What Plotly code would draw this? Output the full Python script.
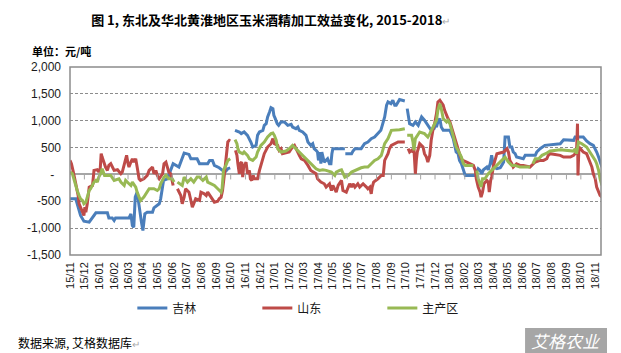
import pandas as pd
import plotly.graph_objects as go

START = pd.Timestamp("2015-11-01")
END = "2018-11-12"

# days after 2015-11-01 ; None value = gap in the series
jilin_days = [0,12,22,29,40,47,54,78,81,88,92,95,123,127,130,133,136,140,144,149,152,156,161,172,175,186,189,195,203,210,215,227,238,248,252,265,270,287,291,297,301,311,318,325,329,334,339,
              344,353,357,363,370,374,377,381,388,391,395,402,405,409,412,416,419,423,425,428,432,435,440,447,454,461,464,471,475,478,485,492,496,499,502,506,509,513,516,518,521,523,525,530,537,541,544,546,548,573,573.5,
              574,587,590,594,607,611,614,621,628,635,642,648,651,656,660,663,669,673,677,680,684,687,698,700,
              703,708,715,720,726,733,739,746,753,759,762,764,767,771,774,778,792,795,799,802,805,809,812,816,820,824,845,848,851,855,858,862,869,872,876,879,883,890,897,900,904,907,914,917,921,924,928,931,945,949,970,973,980,990,1015,1022,1029,1043,1050,1053,1070,1077,1084,1091,1095,1098,1102,1105,1109]
jilin_vals = [-454,-454,-765,-871,-889,-796,-715,-715,-809,-809,-858,-809,-809,-734,-952,-983,-423,-330,-610,-889,-1045,-734,-703,-703,-622,-547,-454,-112,-81,75,199,137,398,373,292,292,199,199,261,261,168,124,75,62,106,124,None,
              821,790,759,790,728,666,604,510,541,728,790,821,914,945,1070,1163,1244,1225,1101,1039,945,914,977,977,914,933,883,852,883,821,790,728,604,572,541,572,479,448,417,261,417,199,417,230,292,199,199,386,479,479,None,
              386,386,435,479,479,522,572,604,666,697,759,821,914,1070,1288,1350,1319,1381,1288,1288,1350,1393,1368,None,
              1225,945,914,977,914,1070,1008,914,821,852,914,883,977,1039,883,821,821,759,666,541,417,386,261,199,75,-19,-19,44,106,75,12,87,137,87,199,355,137,106,124,168,230,697,697,510,510,417,386,323,292,355,355,417,479,541,572,572,647,634,634,697,697,622,572,541,479,417,323,230,137]

shandong_days = [0,3,7,10,14,17,19,22,26,29,31,33,36,40,47,50,57,60,63,65,67,71,74,78,81,85,88,92,99,106,109,113,116,118,121,123,127,130,133,137,140,144,147,154,161,165,172,175,179,182,186,193,196,200,203,206,210,213,215,219,
                 224,227,231,234,238,241,248,252,255,258,262,270,273,280,284,287,294,297,301,308,311,315,318,322,324,327,329,332,334,339,
                 345,348,350,353,355,358,360,362,367,370,374,376,379,382,384,391,395,398,402,405,412,419,423,426,433,436,440,443,457,461,464,468,471,478,482,489,496,502,513,516,523,530,534,541,545,548,555,559,566,569,576,583,587,590,594,600,604,611,618,621,625,628,630,633,642,649,653,655,656,663,666,670,677,684,698,701,
                 705,708,712,715,717,720,722,724,727,729,736,739,743,746,750,753,757,760,764,767,771,774,778,781,785,788,792,795,799,802,805,809,812,816,819,827,841,845,847,851,855,857,860,863,869,872,874,877,879,883,886,890,904,911,914,917,921,924,931,938,945,959,966,970,980,987,994,997,1001,1022,1029,1043,1050,1056,1058,1059,1061,1070,1077,1081,1084,1088,1091,1095,1098,1102,1105,1109]
shandong_vals = [261,199,44,-81,-299,-392,-547,-610,-703,-765,-610,-703,-547,-236,-205,75,87,44,106,386,323,199,137,75,168,199,137,75,87,12,44,168,292,355,199,137,230,292,230,292,137,-81,-112,-81,-19,75,137,12,75,-19,-81,12,199,230,137,44,12,-112,-205,None,
                 -267,-330,-392,-547,-423,-267,-330,-485,-610,-547,-454,-485,-330,-361,-392,-330,-423,-485,-516,-498,-454,-423,-299,12,199,417,604,634,622,None,
                 448,355,199,12,199,230,-50,137,230,12,75,-81,-112,-19,-81,-81,75,168,261,386,510,572,666,572,541,448,479,386,417,479,510,541,479,355,292,261,168,75,12,-81,-143,-174,-236,-174,-299,-205,-330,-205,-112,-299,-330,-174,-236,-174,-236,-174,-236,-174,-236,-267,-236,-361,-236,-143,-81,-19,-19,137,261,386,479,541,572,604,604,None,
                 479,417,448,417,479,12,261,417,510,572,510,386,323,230,355,634,852,945,1132,1350,1381,1350,1288,1194,1101,1039,977,883,790,666,604,479,386,292,261,230,168,75,-81,-236,-330,-423,-330,-174,-112,-143,-330,-112,-50,168,261,386,417,479,417,261,199,137,199,168,168,137,199,230,261,261,292,355,386,355,323,323,355,417,945,-19,510,417,386,292,199,137,12,-81,-236,-330,-392,-423]

main_days = [0,5,8,12,15,19,22,26,29,33,36,40,43,50,54,57,60,64,67,72,85,92,102,106,113,116,123,127,130,137,140,144,147,154,161,165,175,182,186,189,196,200,206,213,217,220,
             224,234,238,245,252,258,265,270,277,284,287,294,301,308,315,317,320,325,329,334,339,
             344,348,350,353,360,363,370,374,381,388,391,395,398,405,412,419,423,426,430,433,440,450,457,464,471,478,485,492,499,506,513,520,527,534,545,552,555,562,566,573,580,587,594,600,607,614,621,628,635,642,649,653,656,663,666,670,687,698,701,
             703,712,715,717,720,729,739,746,750,757,760,764,767,771,774,778,785,788,792,795,799,802,805,809,812,816,820,824,841,844,
             848,851,857,860,865,872,879,886,893,900,907,914,921,928,938,959,962,
             965,970,977,984,994,1001,1022,1043,1050,1053,1056,1060,1067,1077,1084,1091,1095,1098,1102,1105,1109]
main_vals = [44,12,-81,-236,-299,-392,-454,-485,-547,-516,-423,-299,-267,-143,-112,-143,-50,12,106,-19,-19,-112,-81,-143,-205,-112,-174,-205,-143,-236,-330,-423,-485,-423,-330,-267,-267,-299,-267,-174,-50,-19,-81,-81,-143,None,
             -143,-205,-50,-143,-81,-143,-50,-50,-112,-50,-143,-174,-205,-267,-330,-267,75,168,261,292,None,
             647,572,479,417,386,417,355,292,261,323,417,479,541,604,697,759,771,728,634,479,417,435,479,541,479,417,373,292,230,168,106,75,87,75,44,-19,44,75,87,-50,-19,44,75,106,124,137,137,199,261,292,355,479,572,666,728,821,833,852,None,
             728,728,604,448,666,790,759,697,759,883,945,1008,1194,1319,1225,1039,977,1008,945,852,728,604,510,448,386,323,199,168,168,None,
             75,-81,-236,-81,-81,12,75,137,199,261,323,230,168,168,137,137,None,
             199,292,292,355,398,435,460,448,435,479,386,604,572,510,417,323,261,199,75,-81,-205]

tick_vals = [2000, 1500, 1000, 500, 0, -500, -1000, -1500]
tick_text = ["2,000", "1,500", "1,000", "500", "-\u00a0\u00a0", "-500", "-1,000", "-1,500"]
months = pd.date_range("2015-11-01", "2018-11-01", freq="MS")

def to_dates(days):
    return [START + pd.Timedelta(days=d) for d in days]

fig = go.Figure()
series = [("吉林", jilin_days, jilin_vals, "#4A7EBB"),
          ("山东", shandong_days, shandong_vals, "#BE4B48"),
          ("主产区", main_days, main_vals, "#98B954")]
for name, d, v, c in series:
    fig.add_trace(go.Scatter(x=to_dates(d), y=v, name=name, mode="lines",
                             line=dict(color=c, width=3), connectgaps=False))

shapes = [dict(type="rect", xref="paper", yref="paper", x0=0, x1=1, y0=0, y1=1,
               line=dict(color="#8c8c8c", width=1.5), layer="above")]
for m in months:
    shapes.append(dict(type="line", xref="x", yref="y", x0=m, x1=m,
                       ysizemode="pixel", yanchor=0, y0=0, y1=-5,
                       line=dict(color="#a6a6a6", width=1)))
# watermark box
shapes.append(dict(type="rect", xref="paper", yref="paper", x0=0.857, x1=1.0113,
                   y0=-0.521, y1=-0.388, fillcolor="#a6a6a6", line=dict(width=0)))

fig.update_layout(
    width=621, height=353,
    margin=dict(l=70, r=20, t=67, b=98),
    paper_bgcolor="white", plot_bgcolor="white",
    font=dict(family="Arial, Liberation Sans, Noto Sans CJK SC", color="#1a1a1a"),
    title=dict(text="<b>图 1, 东北及华北黄淮地区玉米酒精加工效益变化, 2015-2018</b><span style='color:#aaaaaa;font-size:10px'>↵</span>",
               x=0.436, xanchor="center", y=0.943, yanchor="middle",
               font=dict(family="Noto Sans CJK SC, Arial", size=13, color="#000000")),
    xaxis=dict(type="date", range=["2015-11-01", END], tickformat="%y/%m", dtick="M1",
               tick0="2015-11-01", tickangle=-90, showgrid=False, showline=False, ticks="",
               zeroline=False, tickfont=dict(size=11, family="Arial, Liberation Sans", color="#1a1a1a"),
               ticklabelstandoff=4),
    yaxis=dict(range=[-1500, 2000], tickvals=tick_vals, ticktext=tick_text, showgrid=True,
               gridcolor="#8c8c8c", gridwidth=1, griddash="3px,2px",
               zeroline=True, zerolinecolor="#a6a6a6", zerolinewidth=1.5,
               showline=False, ticks="", tickfont=dict(size=12, family="Arial, Liberation Sans", color="#1a1a1a"),
               ticklabelstandoff=8),
    legend=dict(orientation="h", x=0.1174, xanchor="left", y=-0.282, yanchor="middle",
                entrywidth=80, entrywidthmode="pixels", itemwidth=30,
                font=dict(size=12, family="Noto Sans CJK SC, Arial", color="#1a1a1a"),
                bgcolor="rgba(0,0,0,0)"),
    shapes=shapes,
    annotations=[
        dict(text="<b>单位：元/吨</b>", xref="paper", yref="paper", x=-0.0753, y=1.085,
             xanchor="left", yanchor="middle", showarrow=False,
             font=dict(size=11, family="Noto Sans CJK SC, Arial", color="#000000")),
        dict(text="数据来源, 艾格数据库<span style='color:#aaaaaa;font-size:10px'>↵</span>", xref="paper", yref="paper",
             x=-0.1017, y=-0.4628, xanchor="left", yanchor="middle", showarrow=False,
             font=dict(size=12, family="Noto Sans CJK SC, Arial", color="#000000")),
        dict(text="<i>艾格农业</i>", xref="paper", yref="paper", x=0.934, y=-0.457,
             xanchor="center", yanchor="middle", showarrow=False,
             font=dict(size=17, family="Noto Sans CJK SC", color="#ffffff")),
    ],
)

fig.write_html("out.html")
